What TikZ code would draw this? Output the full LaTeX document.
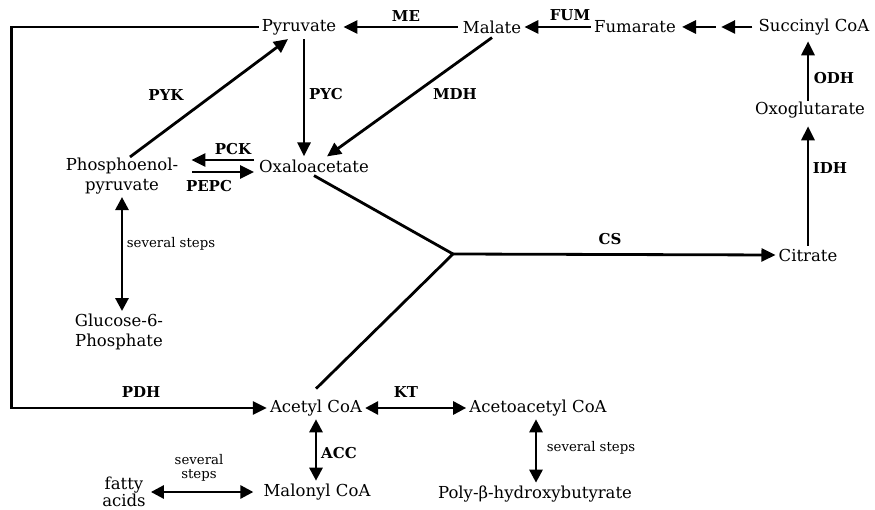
\documentclass[tikz,border=0pt]{standalone}
\usepackage{fontspec}
\setmainfont{DejaVu Serif}
\usetikzlibrary{arrows.meta,calc}
\begin{document}
\begin{tikzpicture}[x=1pt,y=-1pt,
  met/.style={font=\fontsize{16.5}{19.5}\selectfont, inner sep=3pt, align=center},
  enz/.style={font=\fontsize{15}{16}\selectfont\bfseries, inner sep=0pt},
  sml/.style={font=\fontsize{13.3}{14}\selectfont, inner sep=0pt, align=center},
  ln/.style={line width=2.8pt},
  arr/.style={ln, -{Triangle[length=14pt,width=13pt]}},
  barr/.style={ln, {Triangle[length=13pt,width=13pt]}-{Triangle[length=13pt,width=13pt]}}
]
\useasboundingbox (0,0) rectangle (875,510);
% metabolites
\node[met] (pyr) at (299,27) {Pyruvate};
\node[met] (mal) at (492,27) {Malate};
\node[met] (fum) at (635,27) {Fumarate};
\node[met] (suc) at (814,27) {Succinyl CoA};
\node[met] (oxg) at (810,110) {Oxoglutarate};
\node[met] (cit) at (808,255) {Citrate};
\node[met] (oxa) at (314,166) {Oxaloacetate};
\node[met] (pep) at (122,176) {Phosphoenol-\\pyruvate};
\node[met] (glc) at (119,332) {Glucose-6-\\Phosphate};
\node[met] (acc) at (316,408) {Acetyl CoA};
\node[met] (aca) at (538,408) {Acetoacetyl CoA};
\node[met] (mcoa) at (317,492) {Malonyl CoA};
\node[met, font=\fontsize{16.5}{16}\selectfont, inner sep=1pt] (fa) at (124,492) {fatty\\acids};
\node[met] (phb) at (535,494) {Poly-β-hydroxybutyrate};
% junction
\coordinate (j) at (453,254);
% connectors
\draw[arr, shorten >=4pt, shorten <=2pt] (mal.west) -- (pyr.east);
\draw[arr] (fum.west) -- (mal.east);
\coordinate (m1) at ($(suc.west)!0.45!(fum.east)$);
\coordinate (m2) at ($(suc.west)!0.52!(fum.east)$);
\draw[arr, shorten <=3pt] (suc.west) -- (m1);
\draw[arr, shorten >=3pt] (m2) -- (fum.east);
\draw[arr] ($(oxg.north)+(-2,2)$) -- ($(suc.south)+(-6,3)$);
\draw[arr, shorten >=5pt] (cit.north) -- (cit.north |- oxg.south);
\draw[ln, line join=miter] (oxa.south) -- (j) -- ($(acc.north)+(0,-8)$);
\draw[arr] (j) -- (cit.west);
\draw[arr] ($(pep.north)+(8,2)$) -- ($(pyr.south)+(-11,1)$);
\draw[arr] ($(pyr.south)+(5,1)$) -- ($(oxa.north)+(-10,0)$);
\draw[arr] ($(mal.south)+(0,1)$) -- ($(oxa.north)+(13,0)$);
\draw[arr] ($(oxa.west)+(-2,-6)$) -- ($(pep.east)+(10,-16)$);
\draw[arr] ($(pep.east)+(11,-4)$) -- ($(oxa.west)+(-2,6)$);
\draw[barr] (pep.south) -- (pep.south |- glc.north);
\draw[arr] (pyr.west) -- ++(-247,0) |- (acc.west);
\draw[barr] (acc.east) -- (aca.west);
\draw[barr] (acc.south) -- (acc.south |- mcoa.north);
\draw[barr, shorten >=7pt, shorten <=4pt] (fa.east |- mcoa.west) -- (mcoa.west);
\draw[barr] ($(aca.south)+(-2,0)$) -- ($(aca.south |- phb.north)+(-2,0)$);
% enzyme labels
\node[enz] (lme) at (406,16) {ME};
\node[enz] (lfum) at (570,15) {FUM};
\node[enz] (lpyk) at (166,95) {PYK};
\node[enz] (lpyc) at (326,94) {PYC};
\node[enz] (lmdh) at (455,94) {MDH};
\node[enz] (lodh) at (834,78) {ODH};
\node[enz] (lidh) at (830,168) {IDH};
\node[enz] (lcs) at (610,239) {CS};
\node[enz] (lpck) at (233,149) {PCK};
\node[enz] (lpepc) at (209,186) {PEPC};
\node[enz] (lpdh) at (141,392) {PDH};
\node[enz] (lkt) at (406,392) {KT};
\node[enz] (lacc) at (339,453) {ACC};
% small labels
\node[sml] (s1) at (171,244) {several steps};
\node[sml] (s2) at (199,468) {several\\steps};
\node[sml] (s3) at (591,448) {several steps};
\end{tikzpicture}
\end{document}
